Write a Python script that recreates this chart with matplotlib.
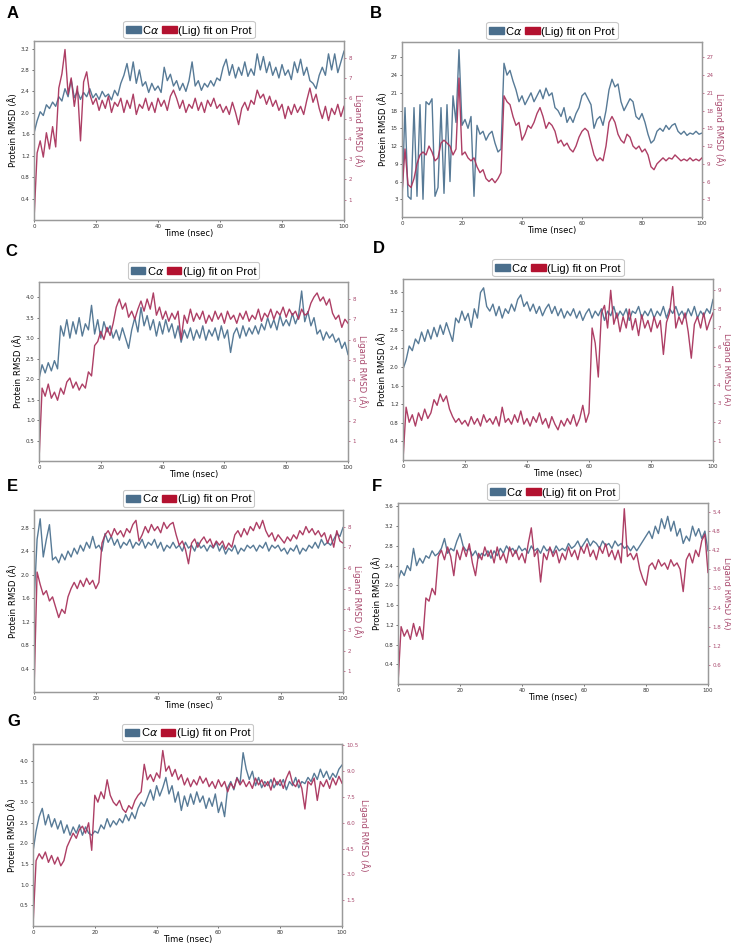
import numpy as np
import matplotlib.pyplot as plt
from matplotlib.patches import Patch

# RMSD traces, one value per ns (0..100 ns)
A_prot = [1.62, 1.85, 2.02, 1.95, 2.15, 2.08, 2.20, 2.12, 2.30, 2.22,
          2.45, 2.30, 2.62, 2.28, 2.40, 2.25, 2.38, 2.30, 2.45, 2.28,
          2.36, 2.25, 2.40, 2.30, 2.35, 2.24, 2.42, 2.32, 2.55, 2.70,
          2.92, 2.60, 2.95, 2.55, 2.80, 2.50, 2.58, 2.38, 2.55, 2.42,
          2.50, 2.38, 2.85, 2.60, 2.72, 2.50, 2.60, 2.42, 2.55, 2.40,
          2.60, 2.95, 2.50, 2.60, 2.42, 2.55, 2.48, 2.60, 2.50, 2.65,
          2.60, 2.85, 3.00, 2.70, 2.90, 2.65, 2.85, 2.70, 2.95, 2.68,
          2.82, 2.70, 3.10, 2.80, 3.05, 2.75, 2.95, 2.70, 2.85, 2.65,
          2.90, 2.70, 2.80, 2.62, 2.95, 2.75, 3.00, 2.70, 2.85, 2.60,
          2.55, 2.45, 2.70, 2.85, 2.70, 3.10, 2.80, 3.10, 2.75, 2.95,
          3.15]
A_lig = [0.0, 3.3, 3.9, 3.1, 4.3, 3.5, 4.6, 3.6, 6.5, 7.2,
         8.4, 6.2, 7.0, 5.6, 6.6, 3.9, 6.8, 7.3, 6.2, 5.7,
         6.0, 5.4, 5.9, 5.5, 6.1, 5.3, 5.8, 5.6, 6.0, 5.3,
         5.9, 5.5, 6.2, 5.2, 5.7, 5.5, 6.0, 5.4, 5.8, 5.3,
         6.0, 5.6, 5.9, 5.4, 6.1, 6.4, 6.0, 5.5, 5.9, 5.3,
         5.7, 5.5, 6.0, 5.4, 5.8, 5.3, 5.9, 5.6, 6.0, 5.5,
         5.7, 5.3, 5.6, 5.2, 5.8, 5.3, 4.7, 5.5, 5.8, 5.4,
         5.9, 5.7, 6.4, 6.0, 6.2, 5.7, 6.1, 5.6, 5.9, 5.4,
         5.7, 5.0, 5.6, 5.2, 5.7, 5.3, 5.6, 5.2, 5.9, 6.5,
         5.8, 6.2, 5.5, 5.0, 5.6, 4.9, 5.5, 5.2, 5.7, 5.1,
         5.6]

B_prot = [2.5, 18.5, 3.5, 3.0, 18.5, 3.5, 19.0, 3.0, 19.5, 19.0,
          20.0, 3.5, 5.0, 18.5, 4.0, 19.0, 6.0, 20.5, 16.0, 28.3,
          15.5, 16.5, 15.0, 17.0, 3.5, 15.5, 14.0, 14.5, 13.0, 14.0,
          14.5, 12.5, 11.0, 11.5, 26.0, 24.0, 24.8, 23.0, 21.5, 19.5,
          20.5, 19.0, 20.0, 21.0, 19.5, 20.5, 21.5, 20.0, 21.8, 20.5,
          21.0, 18.5, 18.0, 17.0, 18.5, 16.0, 17.0, 16.0, 17.5, 18.5,
          20.5, 21.0, 20.0, 19.0, 15.0, 16.5, 17.0, 15.5, 18.0, 21.5,
          23.3, 22.0, 22.5, 19.5, 18.0, 19.0, 20.0, 19.5, 17.0, 16.5,
          17.5, 16.0, 14.0, 12.5, 13.0, 14.5, 15.0, 14.5, 15.5, 14.8,
          15.5, 15.8, 14.5, 14.0, 14.5, 13.8, 14.2, 14.0, 14.5, 14.0,
          14.2]
B_lig = [4.0, 11.5, 5.5, 5.0, 6.5, 9.0, 10.5, 11.0, 10.5, 12.0,
         11.0, 9.5, 10.0, 12.5, 13.0, 12.5, 12.0, 10.5, 11.5, 23.5,
         10.5, 11.0, 10.0, 9.5, 10.0, 8.5, 7.5, 8.0, 6.5, 6.0,
         6.5, 5.8, 6.5, 7.5, 20.5, 19.5, 19.0, 17.0, 15.5, 16.0,
         13.0, 14.0, 15.5, 15.0, 16.0, 17.5, 18.5, 17.0, 15.0, 16.0,
         15.5, 14.5, 12.5, 13.0, 12.0, 12.5, 11.5, 11.0, 12.0, 13.5,
         14.5, 15.0, 14.5, 12.5, 10.5, 9.5, 10.0, 9.5, 12.0, 16.0,
         17.0, 16.0, 14.0, 13.0, 12.5, 14.0, 13.5, 12.0, 11.5, 12.0,
         11.0, 11.5, 10.5, 8.5, 8.0, 9.0, 9.5, 10.0, 9.5, 10.0,
         9.8, 10.5, 10.0, 9.5, 9.8, 9.5, 10.0, 9.5, 9.8, 9.5,
         10.0]

C_prot = [2.0, 2.35, 2.15, 2.4, 2.2, 2.45, 2.25, 3.3, 3.05, 3.45,
          3.0, 3.4, 3.1, 3.5, 3.05, 3.35, 3.2, 3.8, 3.1, 3.45,
          3.0, 3.4, 3.15, 3.3, 3.0, 3.2, 2.95, 3.25, 3.0, 2.75,
          3.2, 3.5, 3.15, 3.75, 3.3, 3.55, 3.2, 3.45, 3.05, 3.4,
          3.1, 3.45, 3.15, 3.35, 3.0, 3.3, 2.9, 3.2, 3.0, 3.25,
          2.95, 3.2, 3.0, 3.3, 2.95, 3.2, 3.05, 3.25, 2.95, 3.3,
          3.0, 3.2, 2.65, 3.1, 3.25, 3.0, 3.3, 3.05, 3.25, 3.1,
          3.3, 3.1, 3.35, 3.2, 3.5, 3.25, 3.45, 3.2, 3.55, 3.3,
          3.45, 3.3, 3.6, 3.35, 3.55, 4.15, 3.4, 3.65, 3.3, 3.5,
          3.1, 3.2, 2.95, 3.15, 3.0, 3.1, 2.9, 3.0, 2.75, 2.9,
          2.6]
C_lig = [0.0, 3.6, 3.2, 3.8, 3.1, 3.4, 3.0, 3.6, 3.3, 3.9,
         4.1, 3.6, 3.9, 3.5, 3.8, 3.6, 4.4, 4.2, 5.7, 5.9,
         6.4, 6.0, 6.6, 6.2, 6.8, 7.6, 8.0, 7.5, 7.8, 7.1,
         7.4, 7.0, 7.5, 7.9, 7.4, 8.0, 7.5, 8.3, 7.2, 7.6,
         7.0, 7.4, 6.9, 7.3, 7.0, 7.4, 6.0, 7.2, 6.8, 7.5,
         6.9, 7.3, 7.0, 7.4, 6.8, 7.2, 6.9, 7.4, 7.0, 7.3,
         6.8, 7.4, 7.0, 7.2, 6.8, 7.3, 7.0, 7.4, 6.9, 7.2,
         7.0, 7.5, 6.9, 7.3, 7.1, 7.5, 7.0, 7.4, 7.2, 7.6,
         7.1, 7.5, 7.2, 7.4, 7.0, 7.5, 7.2, 7.3, 7.8, 8.1,
         8.3, 7.9, 8.1, 7.7, 8.0, 7.3, 7.0, 7.2, 6.6, 7.0,
         6.8]

D_prot = [1.95, 2.15, 2.45, 2.35, 2.6, 2.5, 2.75, 2.55, 2.8, 2.6,
          2.85, 2.65, 2.9, 2.7, 2.95, 2.75, 2.55, 3.05, 2.95, 3.2,
          3.0, 3.15, 2.85, 3.25, 3.05, 3.6, 3.7, 3.3, 3.2, 3.35,
          3.1, 3.3, 3.05, 3.25, 3.15, 3.35, 3.2, 3.45, 3.55, 3.3,
          3.4, 3.2, 3.35, 3.15, 3.3, 3.1, 3.25, 3.35, 3.15, 3.3,
          3.1, 3.25, 3.05, 3.2, 3.1, 3.25, 3.05, 3.2, 3.0, 3.15,
          3.25, 3.05, 3.2, 3.1, 3.25, 3.0, 3.2, 3.1, 3.3, 3.05,
          3.2, 3.1, 3.25, 3.0, 3.2, 3.15, 3.3, 3.05, 3.2, 3.1,
          3.25, 3.05, 3.2, 3.1, 3.3, 3.05, 3.25, 3.15, 3.3, 3.1,
          3.2, 3.05, 3.25, 3.1, 3.3, 3.05, 3.2, 3.1, 3.25, 3.15,
          3.45]
D_lig = [0.0, 2.8, 2.0, 2.4, 1.8, 2.5, 2.1, 2.7, 2.2, 2.5,
         3.2, 2.9, 3.5, 3.1, 3.4, 2.7, 2.3, 2.0, 2.2, 1.9,
         2.1, 1.8, 2.3, 1.9, 2.2, 1.8, 2.4, 2.0, 2.2, 1.9,
         2.3, 1.8, 2.8, 2.0, 2.2, 1.9, 2.4, 2.0, 2.6, 1.9,
         2.2, 1.8, 2.3, 2.0, 2.5, 1.9, 2.2, 1.7, 2.3, 1.9,
         1.6, 2.1, 1.8, 2.2, 1.9, 2.4, 1.8, 2.2, 2.9, 2.0,
         2.5, 7.0, 6.2, 4.4, 7.8, 8.2, 7.0, 9.0, 7.2, 7.8,
         6.8, 7.6, 7.0, 8.0, 6.9, 7.5, 6.6, 7.7, 7.0, 7.4,
         6.8, 7.6, 7.0, 7.4, 5.6, 7.3, 7.8, 9.2, 7.0, 7.6,
         7.2, 7.8, 6.8, 5.4, 7.2, 7.6, 7.0, 7.8, 6.9, 7.4,
         7.8]

E_prot = [1.5, 2.6, 2.95, 2.3, 2.6, 2.85, 2.25, 2.3, 2.2, 2.35,
          2.25, 2.4, 2.3, 2.45, 2.35, 2.5, 2.4, 2.55, 2.45, 2.65,
          2.45, 2.5, 2.4, 2.7, 2.55, 2.65, 2.5, 2.6, 2.45, 2.55,
          2.5, 2.6, 2.45, 2.55, 2.5, 2.6, 2.45, 2.55, 2.5, 2.6,
          2.45, 2.55, 2.4, 2.5, 2.45, 2.55, 2.45, 2.5, 2.4, 2.55,
          2.45, 2.5, 2.4, 2.55, 2.45, 2.5, 2.4, 2.5, 2.45, 2.55,
          2.4, 2.5, 2.35, 2.45, 2.4, 2.5, 2.35, 2.45, 2.4, 2.5,
          2.45, 2.5, 2.4, 2.5, 2.45, 2.55, 2.4, 2.5, 2.45, 2.5,
          2.4, 2.45, 2.35, 2.45, 2.4, 2.5, 2.35, 2.45, 2.4, 2.5,
          2.45, 2.55, 2.45, 2.6, 2.5, 2.55, 2.5, 2.6, 2.7, 2.65,
          2.8]
E_lig = [0.0, 5.8, 5.2, 4.7, 4.9, 4.4, 4.6, 4.1, 3.6, 4.0,
         3.8, 4.6, 5.0, 5.3, 5.0, 5.4, 5.1, 5.5, 5.2, 5.4,
         5.0, 5.3, 7.2, 7.6, 7.8, 7.5, 7.9, 7.6, 7.8, 7.5,
         7.9, 7.7, 8.1, 8.3, 7.3, 7.6, 8.0, 7.7, 8.1, 7.8,
         8.0, 7.7, 8.2, 7.9, 8.1, 8.2, 7.6, 7.1, 7.3, 6.9,
         6.2, 7.2, 7.4, 7.0, 7.3, 7.5, 7.2, 7.4, 7.0, 7.3,
         7.1, 7.3, 6.9, 7.2, 7.0, 7.6, 7.8, 7.5, 7.9, 7.6,
         8.0, 7.8, 8.2, 7.9, 8.3, 7.8, 7.5, 7.7, 7.3, 7.6,
         7.4, 7.2, 7.5, 7.3, 7.6, 7.4, 7.8, 7.6, 8.0, 7.7,
         7.9, 7.6, 7.8, 7.5, 7.7, 7.2, 7.6, 7.0, 7.8, 7.3,
         7.2]

F_prot = [2.1, 2.3, 2.2, 2.4, 2.3, 2.75, 2.4, 2.55, 2.45, 2.6,
          2.55, 2.7, 2.6, 2.65, 2.75, 2.95, 2.65, 2.75, 2.7, 2.9,
          3.05, 2.8, 2.7, 2.75, 2.6, 2.7, 2.55, 2.65, 2.6, 2.7,
          2.55, 2.7, 2.6, 2.75, 2.65, 2.8, 2.7, 2.75, 2.65, 2.8,
          2.7, 2.75, 2.65, 2.8, 2.7, 2.75, 2.65, 2.8, 2.7, 2.75,
          2.65, 2.8, 2.7, 2.75, 2.7, 2.85, 2.75, 2.8, 2.9, 2.75,
          2.85, 2.95, 2.8, 2.9, 2.85, 2.75, 2.9, 2.8, 2.85, 2.75,
          2.9, 2.8, 2.85, 2.75, 2.8, 2.7, 2.8, 2.7, 2.8, 2.9,
          3.0, 3.1, 2.95, 3.2, 3.05, 3.35, 3.15, 3.4, 3.1, 3.3,
          3.0, 3.15, 2.85, 3.0, 2.9, 3.2, 3.0, 3.15, 2.95, 3.1,
          2.7]
F_lig = [0.0, 1.8, 1.5, 1.7, 1.4, 1.9, 1.5, 1.8, 1.4, 2.7,
         2.6, 3.0, 2.8, 4.0, 4.2, 3.9, 4.3, 4.0, 3.4, 4.2,
         3.9, 4.3, 4.0, 4.4, 3.8, 3.4, 4.1, 3.9, 4.3, 4.0,
         4.2, 3.8, 4.3, 3.9, 4.1, 3.8, 4.3, 4.0, 4.2, 3.9,
         4.1, 3.8, 4.4, 4.9, 4.0, 4.2, 3.2, 4.1, 3.9, 4.3,
         4.0, 4.2, 3.8, 4.1, 3.9, 4.3, 4.0, 4.2, 3.9, 4.3,
         4.1, 4.4, 4.0, 4.2, 3.9, 4.3, 4.1, 4.4, 4.0, 4.2,
         3.9, 4.2, 3.8, 5.5, 4.0, 4.1, 3.9, 4.1, 3.6, 3.3,
         3.1, 3.7, 3.8, 3.6, 3.9, 3.7, 3.8, 3.6, 3.9, 3.7,
         3.8, 3.6, 2.9, 3.9, 4.1, 3.8, 4.2, 4.0, 4.5, 4.7,
         3.5]

G_prot = [1.8, 2.3, 2.65, 2.85, 2.45, 2.7, 2.4, 2.6, 2.35, 2.55,
          2.25, 2.45, 2.2, 2.4, 2.25, 2.45, 2.2, 2.4, 2.25, 2.2,
          2.3, 2.25, 2.45, 2.35, 2.6, 2.4, 2.55, 2.45, 2.6, 2.5,
          2.7, 2.55, 2.75, 2.6, 2.85, 3.0, 2.9, 3.1, 3.3, 3.05,
          3.4, 3.15, 3.35, 3.6, 3.2, 3.4, 3.0, 3.25, 2.8, 3.15,
          2.9, 3.2, 2.95, 3.25, 3.0, 3.15, 2.85, 3.1, 2.9, 3.2,
          2.75, 3.0, 2.65, 3.35, 3.5, 3.3, 3.6, 3.45, 4.2, 3.8,
          3.55, 3.75, 3.4, 3.6, 3.35, 3.5, 3.4, 3.55, 3.35, 3.5,
          3.4, 3.55, 3.3, 3.5, 3.4, 3.6, 3.35, 3.5, 3.45, 3.6,
          3.5, 3.7, 3.55, 3.8, 3.6, 3.75, 3.55, 3.7, 3.6, 3.8,
          3.9]
G_lig = [0.0, 3.8, 4.2, 3.9, 4.3, 3.7, 4.1, 3.6, 4.0, 3.5,
         3.8, 4.6, 5.0, 5.4, 5.1, 5.6, 5.8, 5.4, 6.0, 4.4,
         7.6, 7.2, 7.8, 7.4, 8.5, 7.6, 7.2, 7.0, 7.3, 6.8,
         6.6, 7.0, 6.8, 7.3, 7.6, 7.8, 9.4, 8.5, 8.8, 8.4,
         8.9, 8.6, 10.2, 9.0, 9.3, 8.7, 9.1, 8.5, 8.8, 8.2,
         8.6, 8.1, 8.5, 8.2, 8.7, 8.3, 8.6, 8.1, 8.4, 8.0,
         8.5, 8.1, 8.4, 7.8, 8.3, 8.0, 8.6, 8.2, 8.5, 8.1,
         8.4, 8.0, 8.6, 8.2, 8.5, 8.1, 8.4, 7.9, 8.6, 8.2,
         8.5, 8.0, 8.6, 9.0, 8.3, 8.1, 8.5, 8.0, 6.8, 8.4,
         8.2, 8.6, 7.3, 8.4, 8.1, 8.5, 8.0, 8.6, 8.2, 8.7,
         8.3]

x_ticks = [0, 20, 40, 60, 80, 100]

W, H = 731, 944
prot_color = '#4e7391'
lig_color = '#a9345d'
lig_tick_color = '#a94a6e'

plt.rcParams['font.family'] = ['DejaVu Sans']

# letter, protein, ligand, axes box (px: x0, y0, x1, y1), letter pos, ylims, ticks, tick format
panels = [
    ('A', A_prot, A_lig, (34, 41, 344, 220), (7, 6), (0, 3.34), (0, 8.82),
     np.arange(0.4, 3.3, 0.4), np.arange(1, 9, 1), '%.1f', '%d'),
    ('B', B_prot, B_lig, (402, 42, 702, 217), (370, 6), (0, 29.6), (0, 29.6),
     np.arange(3, 28, 3), np.arange(3, 28, 3), '%d', '%d'),
    ('C', C_prot, C_lig, (39, 282, 348, 461), (5, 244), (0, 4.37), (0, 8.84),
     np.arange(0.5, 4.1, 0.5), np.arange(1, 9, 1), '%.1f', '%d'),
    ('D', D_prot, D_lig, (403, 279, 713, 460), (373, 241), (0, 3.89), (0, 9.6),
     np.arange(0.4, 3.7, 0.4), np.arange(1, 10, 1), '%.1f', '%d'),
    ('E', E_prot, E_lig, (34, 510, 343, 692), (7, 479), (0, 3.1), (0, 8.8),
     np.arange(0.4, 2.9, 0.4), np.arange(1, 9, 1), '%.1f', '%d'),
    ('F', F_prot, F_lig, (398, 503, 708, 684), (372, 479), (0, 3.67), (0, 5.68),
     np.arange(0.4, 3.7, 0.4), np.arange(0.6, 5.5, 0.6), '%.1f', '%.1f'),
    ('G', G_prot, G_lig, (33, 744, 342, 926), (7, 714), (0, 4.41), (0, 10.58),
     np.arange(0.5, 4.1, 0.5), np.arange(1.5, 10.6, 1.5), '%.1f', '%.1f'),
]

fig = plt.figure(figsize=(W / 100, H / 100), dpi=100)

handles = [Patch(facecolor='#4a6e8c', edgecolor='#4a6e8c', joinstyle='round', linewidth=1.0),
           Patch(facecolor='#b3112f', edgecolor='#b3112f', joinstyle='round', linewidth=1.0)]
labels = ['C$\\alpha$', '(Lig) fit on Prot']

for (letter, prot, lig, box, lpos, ylp, yll, tp, tl, fp, fl) in panels:
    x0, y0, x1, y1 = box
    ax = fig.add_axes([x0 / W, 1 - y1 / H, (x1 - x0) / W, (y1 - y0) / H])
    t = np.linspace(0, 100, len(prot))
    ax.plot(t, prot, color=prot_color, lw=1.0, alpha=0.95)
    ax2 = ax.twinx()
    t2 = np.linspace(0, 100, len(lig))
    ax2.plot(t2, lig, color=lig_color, lw=1.0, alpha=0.95)

    ax.set_xlim(0, 100)
    ax.set_ylim(*ylp)
    ax2.set_ylim(*yll)
    ax.set_xticks(x_ticks)
    ax.set_yticks(tp)
    ax.set_yticklabels([fp % v for v in tp])
    ax2.set_yticks(tl)
    ax2.set_yticklabels([fl % v for v in tl])

    ax.tick_params(axis='both', labelsize=4, length=1.5, width=0.5, pad=1.5,
                   colors='#333333')
    ax2.tick_params(axis='y', labelsize=4, length=1.5, width=0.5, pad=1.5,
                    colors=lig_tick_color)
    for a in (ax, ax2):
        for s in a.spines.values():
            s.set_color('#9a9a9a')
            s.set_linewidth(0.9)

    ax.set_xlabel('Time (nsec)', fontsize=6, labelpad=0)
    ax.set_ylabel('Protein RMSD (Å)', fontsize=6.2, labelpad=2)
    ax2.set_ylabel('Ligand RMSD (Å)', fontsize=6.2, color=lig_tick_color,
                   rotation=270, labelpad=8.5)

    leg = ax.legend(handles, labels, loc='lower center', bbox_to_anchor=(0.5, 1.015),
                    ncol=2, handlelength=1.3, handleheight=0.6,
                    handletextpad=0.15, columnspacing=0.25, borderpad=0.25,
                    borderaxespad=0, frameon=True,
                    prop={'family': 'Liberation Sans', 'size': 8})
    leg.get_frame().set_edgecolor('#bbbbbb')
    leg.get_frame().set_linewidth(0.8)

    fig.text(lpos[0] / W, 1 - lpos[1] / H, letter, fontsize=12, fontweight='bold',
             family='Liberation Sans', ha='left', va='top')

fig.savefig('out.png', dpi=100)
